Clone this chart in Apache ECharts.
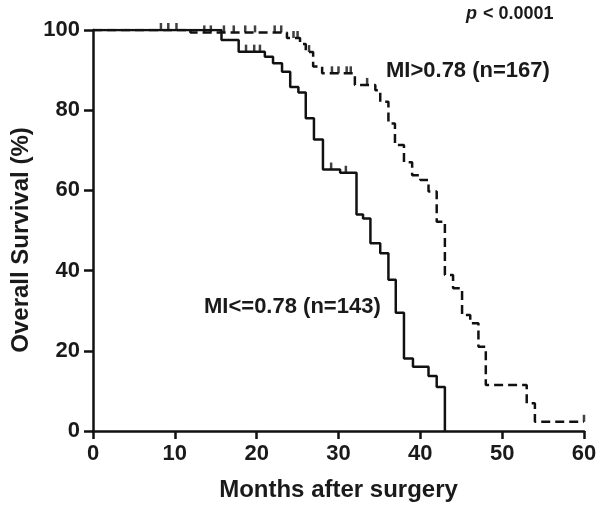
<!DOCTYPE html>
<html>
<head>
<meta charset="utf-8">
<script src="https://cdn.jsdelivr.net/npm/echarts@6/dist/echarts.min.js"></script>
<style>html,body{margin:0;padding:0;background:#fff}#c{width:600px;height:513px}</style>
</head>
<body>
<div id="c"></div>
<script>
// Kaplan-Meier steps: [month, survival % after event]
var lowMI = [[0,100],[15.7,97.5],[17.8,94.6],[21,93.3],[22,91.7],[23.1,89.6],[24.1,85.8],[25.1,84.4],[26,78],[27,72.7],[28.1,65.2],[30.2,64.4],[32.2,54],[33,53],[33.9,46.8],[35.1,44.3],[36.1,37.7],[37,29.5],[38,18.1],[39.1,16],[41,13.7],[42,11],[43,0]];
var highMI = [[0,100],[11.9,99.4],[23.7,98],[25.3,96.5],[26,94.5],[26.9,90.9],[28,89.2],[32,86.3],[34.5,85],[35.1,82.1],[36.1,76.7],[36.9,71.3],[38,67],[39,63.8],[40,62.6],[41,59.7],[42,52.2],[43,38.9],[44,35.6],[45.1,28.9],[46.1,26.9],[47.1,21],[48,11.5],[53,6.9],[54,2.3],[60,2.3]];
var lowCensor = [[18.7,94.6],[19.7,94.6],[20.4,94.6],[29.1,65.2],[30.9,64.4]];
var highCensor = [[8.3,100],[9.2,100],[10.2,100],[13.6,99.4],[14.4,99.4],[16,99.4],[17.2,99.4],[18.6,99.4],[19.8,99.4],[22.2,99.4],[23,99.4],[24.5,98],[25,98],[26.4,94.5],[29.2,89.2],[30,89.2],[31,89.2],[31.5,89.2],[33.5,86.3],[60,2.3]];
var xTicks = {min:0, max:60, interval:10};
var yTicks = {min:0, max:100, interval:20};
var labels = {p:'p', pText:' < 0.0001', high:'MI>0.78 (n=167)', low:'MI<=0.78 (n=143)', xTitle:'Months after surgery', yTitle:'Overall Survival (%)'};

var chart = echarts.init(document.getElementById('c'), null, {renderer:'canvas'});
var FF = '"Liberation Sans", Arial, sans-serif';
var TXT = '#1a1a1a';
var censorStyle = {type:'scatter', symbol:'rect', symbolSize:[2.5,7], symbolOffset:[0,-3.5], itemStyle:{color:'#111'}, silent:true, z:5};
chart.setOption({
  animation:false,
  grid:{left:93, right:16, top:30, bottom:82, containLabel:false},
  xAxis:{type:'value', min:xTicks.min, max:xTicks.max, interval:xTicks.interval,
    name:labels.xTitle, nameLocation:'middle', nameGap:47,
    nameTextStyle:{fontFamily:FF, fontWeight:'bold', fontSize:24, color:TXT},
    axisLine:{lineStyle:{color:'#111', width:2.5}},
    axisTick:{length:8, lineStyle:{color:'#111', width:2.5}},
    axisLabel:{fontFamily:FF, fontWeight:'bold', fontSize:22, color:TXT, margin:12},
    splitLine:{show:false}},
  yAxis:{type:'value', min:yTicks.min, max:yTicks.max, interval:yTicks.interval,
    axisLine:{show:true, lineStyle:{color:'#111', width:2.5}},
    axisTick:{show:true, length:9, lineStyle:{color:'#111', width:2.5}},
    axisLabel:{fontFamily:FF, fontWeight:'bold', fontSize:22, color:TXT, margin:13},
    splitLine:{show:false}},
  series:[
    {type:'line', step:'end', data:lowMI, symbol:'none', lineStyle:{color:'#111', width:2.5}, z:3},
    {type:'line', step:'end', data:highMI, symbol:'none', lineStyle:{color:'#111', width:2.5, type:[9,5]}, z:3},
    Object.assign({data:lowCensor}, censorStyle),
    Object.assign({data:highCensor}, censorStyle)
  ],
  graphic:[
    {type:'text', x:21, y:240, rotation:Math.PI/2, style:{text:labels.yTitle, fontFamily:FF, fontWeight:'bold', fontSize:24, fill:TXT, align:'center', verticalAlign:'middle'}},
    {type:'text', left:466, top:5, style:{text:labels.p, fontFamily:FF, fontWeight:'bold', fontStyle:'italic', fontSize:18, fill:TXT}},
    {type:'text', left:478, top:5, style:{text:labels.pText, fontFamily:FF, fontWeight:'bold', fontSize:18, fill:TXT}},
    {type:'text', left:386, top:60, style:{text:labels.high, fontFamily:FF, fontWeight:'bold', fontSize:22, fill:TXT}},
    {type:'text', left:204, top:296, style:{text:labels.low, fontFamily:FF, fontWeight:'bold', fontSize:22, fill:TXT}}
  ]
});
</script>
</body>
</html>
